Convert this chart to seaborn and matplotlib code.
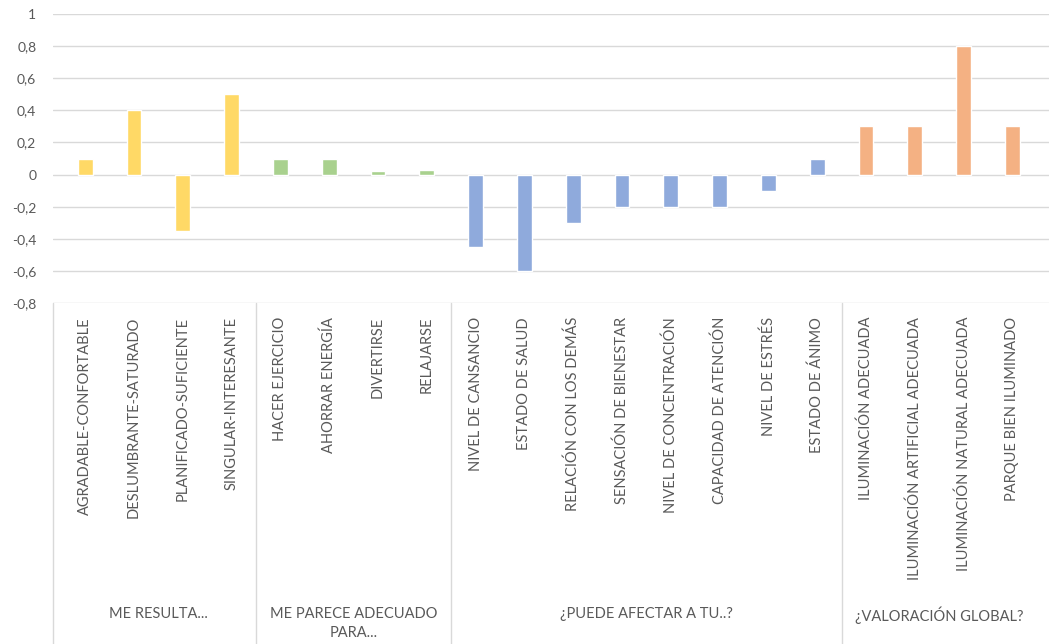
import numpy as np
import pandas as pd
import matplotlib
matplotlib.use("Agg")
import matplotlib.pyplot as plt
import matplotlib.transforms as mtransforms
import seaborn as sns

# data
groups = ["ME RESULTA...", "ME PARECE ADECUADO\nPARA...", "¿PUEDE AFECTAR A TU..?", "¿VALORACIÓN GLOBAL?"]
items_resulta = ["AGRADABLE-CONFORTABLE", "DESLUMBRANTE-SATURADO", "PLANIFICADO-SUFICIENTE", "SINGULAR-INTERESANTE"]
items_adecuado = ["HACER EJERCICIO", "AHORRAR ENERGÍA", "DIVERTIRSE", "RELAJARSE"]
items_afectar = ["NIVEL DE CANSANCIO", "ESTADO DE SALUD", "RELACIÓN CON LOS DEMÁS", "SENSACIÓN DE BIENESTAR",
                 "NIVEL DE CONCENTRACIÓN", "CAPACIDAD DE ATENCIÓN", "NIVEL DE ESTRÉS", "ESTADO DE ÁNIMO"]
items_global = ["ILUMINACIÓN ADECUADA", "ILUMINACIÓN ARTIFICIAL ADECUADA", "ILUMINACIÓN NATURAL ADECUADA",
                "PARQUE BIEN ILUMINADO"]

vals_resulta = [0.1, 0.4, -0.35, 0.5]
vals_adecuado = [0.1, 0.1, 0.02, 0.03]
vals_afectar = [-0.45, -0.6, -0.3, -0.2, -0.2, -0.2, -0.1, 0.1]
vals_global = [0.3, 0.3, 0.8, 0.3]

colors = ["#FFD966", "#A9D18E", "#8FAADC", "#F4B183"]
yticks = [-0.8, -0.6, -0.4, -0.2, 0, 0.2, 0.4, 0.6, 0.8, 1]

items = [items_resulta, items_adecuado, items_afectar, items_global]
vals = [vals_resulta, vals_adecuado, vals_afectar, vals_global]
df = pd.DataFrame({
    "item": sum(items, []),
    "value": sum(vals, []),
    "group": sum([[g] * len(i) for g, i in zip(groups, items)], []),
})

sns.set_style("white")
plt.rcParams["font.family"] = ["Lato", "DejaVu Sans"]
text_color = "#595959"
grid_color = "#D9D9D9"

fig = plt.figure(figsize=(10.49, 6.44), dpi=100)
ax = fig.add_axes([53 / 1049, 1 - 303 / 644, 1 - 53 / 1049, (303 - 14) / 644])

sns.barplot(data=df, x="item", y="value", hue="group", palette=colors,
            dodge=False, width=0.3, legend=False, ax=ax, saturation=1)

# category band sits a little inside the plot area, as in Excel
ax.set_xlim(-0.66, len(df) - 0.25)
ax.set_ylim(-0.8, 1)
ax.set_yticks(yticks)
ax.set_yticklabels([("%g" % t).replace(".", ",") for t in yticks], color=text_color, fontsize=10)
ax.yaxis.grid(True, color=grid_color, linewidth=1)
ax.set_axisbelow(True)
for s in ax.spines.values():
    s.set_visible(False)
ax.tick_params(axis="y", length=0, pad=12)
ax.tick_params(axis="x", length=0, pad=10)
ax.set_xlabel("")
ax.set_ylabel("")
ax.set_xticks(range(len(df)))
ax.set_xticklabels(df["item"], rotation=90, va="top", ha="center", color=text_color, fontsize=10.5)

# group box below the axis
trans = mtransforms.blended_transform_factory(ax.transData, fig.transFigure)
bounds = np.cumsum([0] + [len(i) for i in items]) - 0.5
y_top = 1 - 303 / 644
seps = [ax.get_xlim()[0]] + list(bounds[1:-1])
for b in seps:
    ax.plot([b, b], [y_top, 0], transform=trans, color=grid_color, linewidth=1, clip_on=False)
for g, lo, hi in zip(groups, bounds[:-1], bounds[1:]):
    ax.text((lo + hi) / 2, 1 - 607 / 644, g, transform=trans, ha="center", va="top",
            color=text_color, fontsize=10.5, linespacing=1.45)

fig.savefig("out.png", dpi=100)
